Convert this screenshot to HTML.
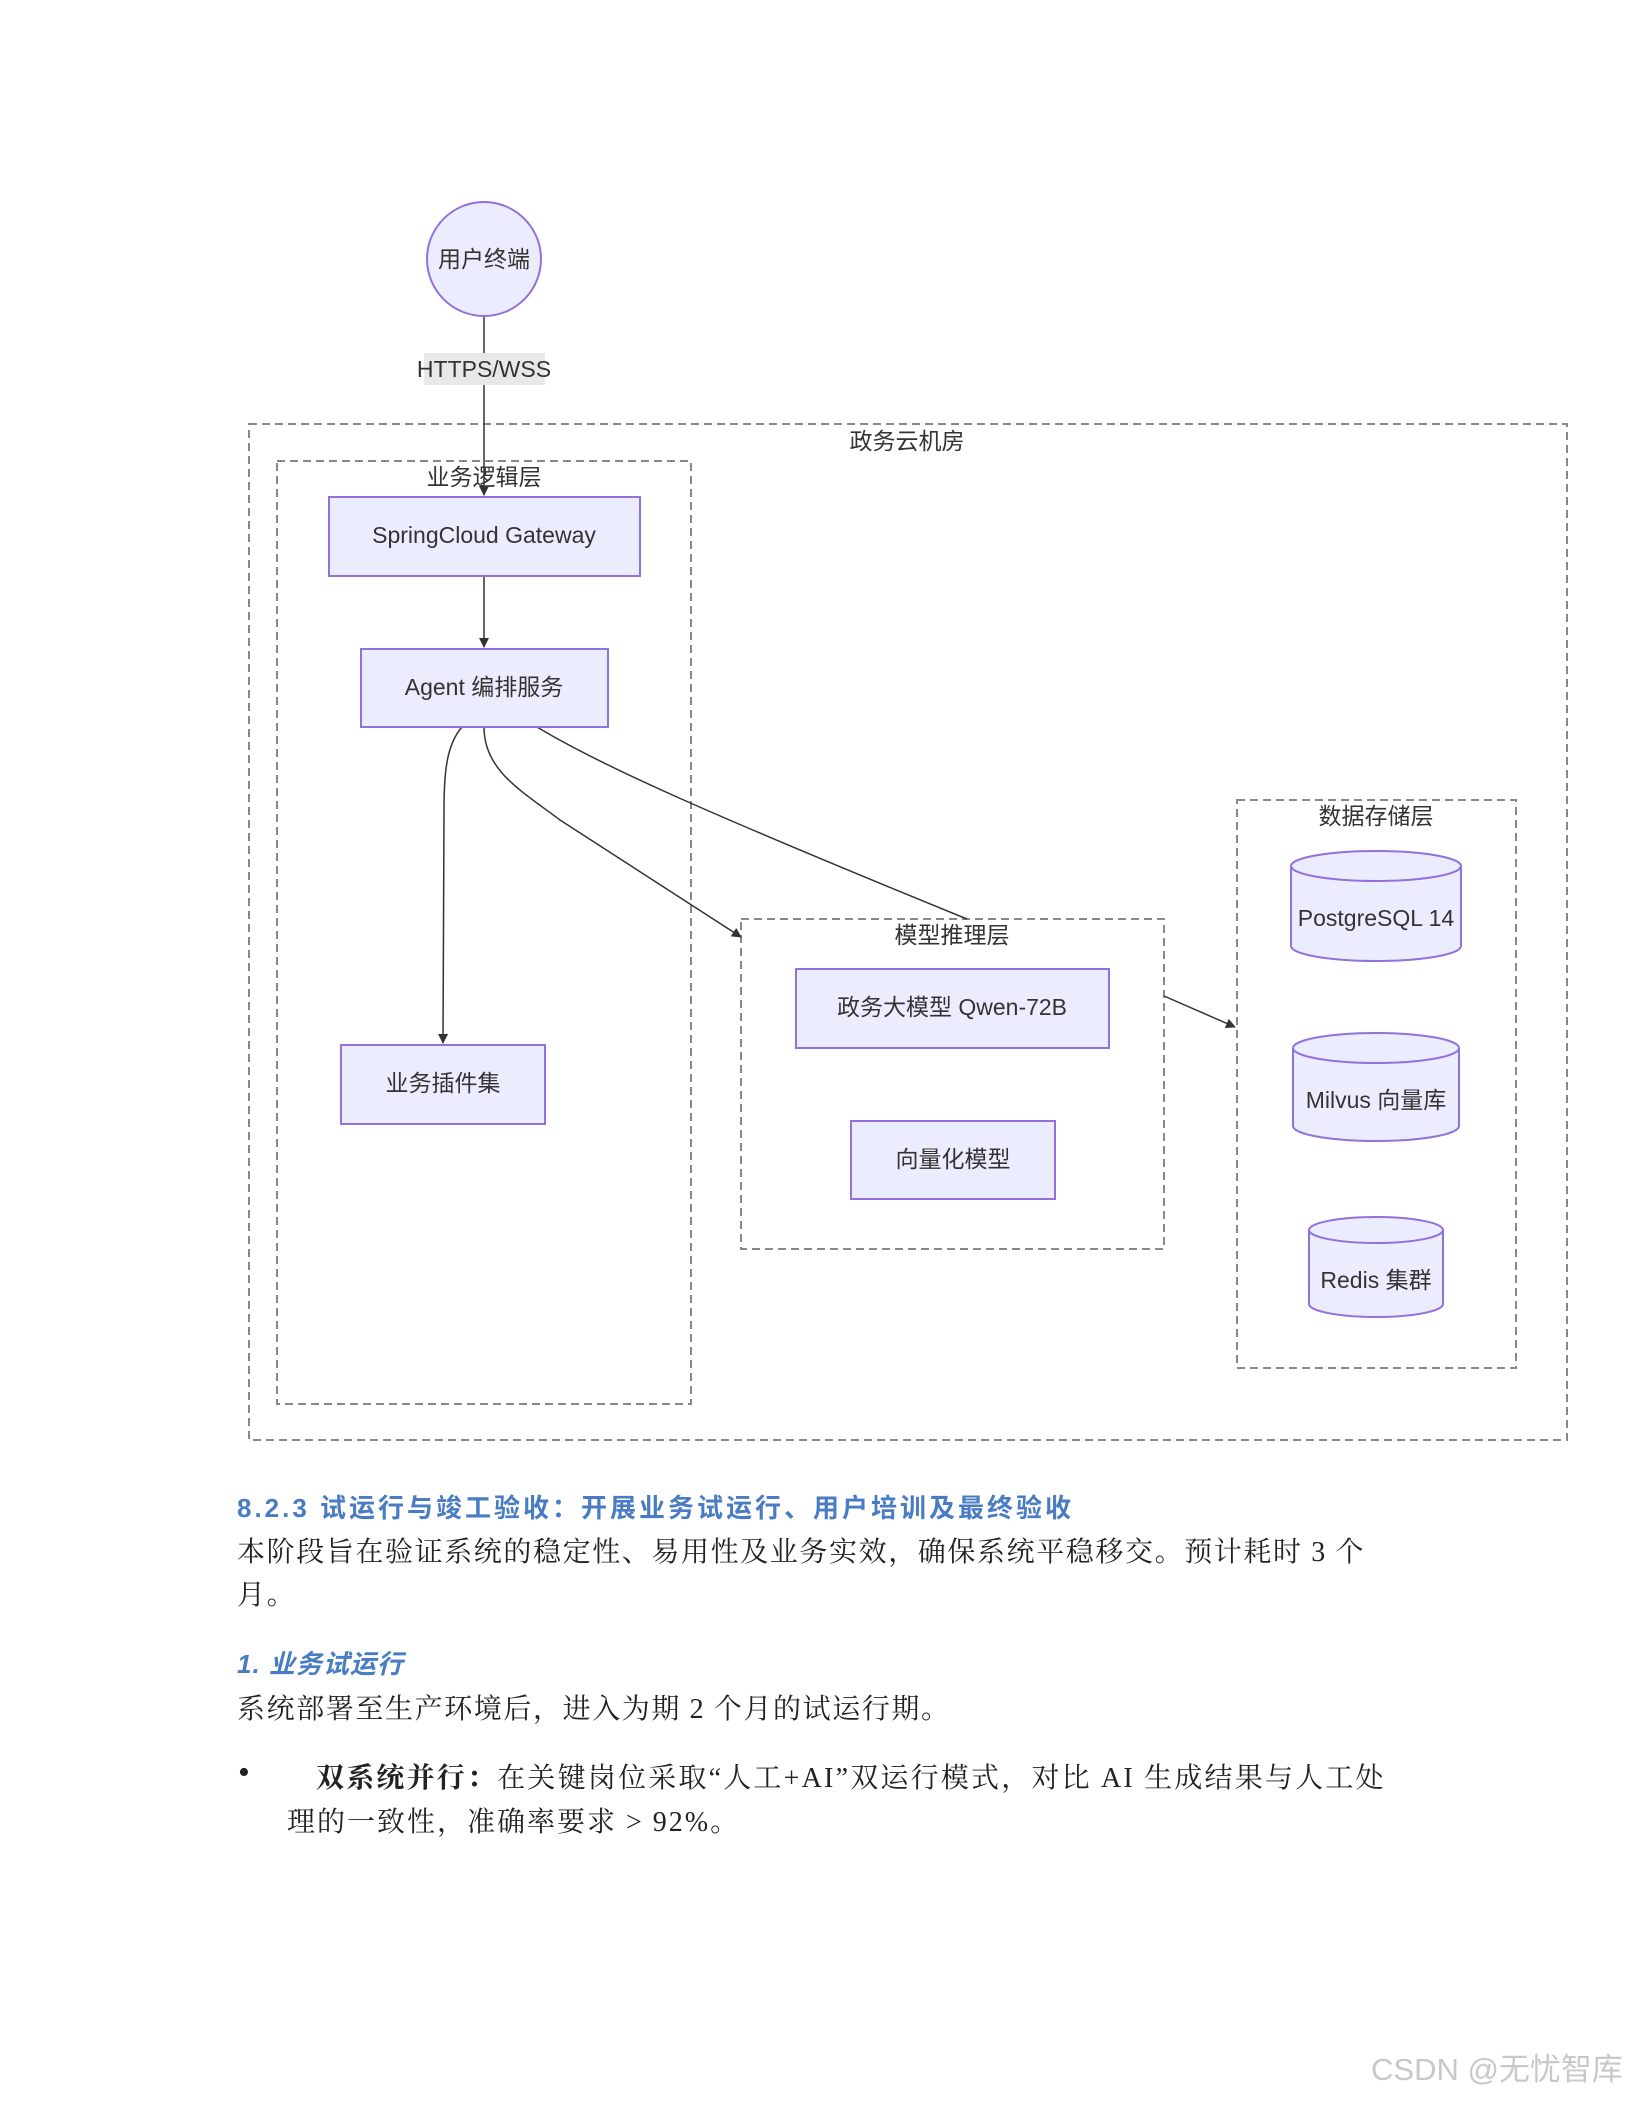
<!DOCTYPE html>
<html><head><meta charset="utf-8"><style>
html,body{margin:0;padding:0;background:#fff;}
body{width:1632px;height:2112px;position:relative;overflow:hidden;font-family:"Liberation Serif","Noto Serif CJK SC",serif;}
.t{position:absolute;white-space:nowrap;font-size:28px;color:#222;letter-spacing:1.6px;}
.h{color:#4a7cc4;font-family:"Liberation Sans","Noto Sans CJK SC",sans-serif;font-size:26px;letter-spacing:3px;}
</style></head><body>
<svg width="1632" height="2112" style="position:absolute;left:0;top:0" font-family="Liberation Sans, Noto Sans CJK SC, sans-serif">
<defs><marker id="a" markerWidth="10" markerHeight="10" refX="9" refY="5" orient="auto" markerUnits="userSpaceOnUse"><path d="M0,0 L10,5 L0,10 z" fill="#333"/></marker></defs>
<g fill="none" stroke="#888" stroke-width="2" stroke-dasharray="8,5">
<rect x="249" y="424" width="1318" height="1016"/>
<rect x="277" y="461" width="414" height="943"/>
<rect x="741" y="919" width="423" height="330"/>
<rect x="1237" y="800" width="279" height="568"/>
</g>
<g font-size="23" fill="#333" text-anchor="middle">
<text x="907" y="449">政务云机房</text>
<text x="484" y="485">业务逻辑层</text>
<text x="952" y="943">模型推理层</text>
<text x="1376" y="824">数据存储层</text>
</g>
<g fill="none" stroke="#333" stroke-width="1.5">
<line x1="484" y1="316" x2="484" y2="495" marker-end="url(#a)"/>
<line x1="484" y1="576" x2="484" y2="647" marker-end="url(#a)"/>
<path d="M462,727 C446,745 444,775 444,810 L443,1043" marker-end="url(#a)"/>
<path d="M484,727 C484,770 520,790 560,820 L741,937" marker-end="url(#a)"/>
<path d="M537,727 C600,765 700,810 967,919"/>
<line x1="1164" y1="996" x2="1235" y2="1027" marker-end="url(#a)"/>
</g>
<rect x="424" y="353" width="121" height="32" fill="#e8e8e8"/>
<text x="484" y="377" font-size="23" fill="#333" text-anchor="middle">HTTPS/WSS</text>
<circle cx="484" cy="259" r="57" fill="#ececff" stroke="#9370db" stroke-width="2"/>
<text x="484" y="267" font-size="23" fill="#333" text-anchor="middle">用户终端</text>
<g fill="#ececff" stroke="#9370db" stroke-width="2">
<rect x="329" y="497" width="311" height="79"/>
<rect x="361" y="649" width="247" height="78"/>
<rect x="341" y="1045" width="204" height="79"/>
<rect x="796" y="969" width="313" height="79"/>
<rect x="851" y="1121" width="204" height="78"/>
<path d="M1291,866 v80 a85,15 0 0 0 170,0 v-80"/>
<ellipse cx="1376" cy="866" rx="85" ry="15"/>
<path d="M1293,1048 v78 a83,15 0 0 0 166,0 v-78"/>
<ellipse cx="1376" cy="1048" rx="83" ry="15"/>
<path d="M1309,1230 v74 a67,13 0 0 0 134,0 v-74"/>
<ellipse cx="1376" cy="1230" rx="67" ry="13"/>
</g>
<g font-size="23" fill="#333" text-anchor="middle">
<text x="484" y="543">SpringCloud Gateway</text>
<text x="484" y="695">Agent 编排服务</text>
<text x="443" y="1091">业务插件集</text>
<text x="952" y="1015">政务大模型 Qwen-72B</text>
<text x="953" y="1167">向量化模型</text>
<text x="1376" y="926">PostgreSQL 14</text>
<text x="1376" y="1108">Milvus 向量库</text>
<text x="1376" y="1288">Redis 集群</text>
</g>
</svg>
<div class="t h" style="left:237px;top:1488px;font-weight:bold">8.2.3 试运行与竣工验收：开展业务试运行、用户培训及最终验收</div>
<div class="t" style="left:237px;top:1530px">本阶段旨在验证系统的稳定性、易用性及业务实效，确保系统平稳移交。预计耗时&nbsp;3&nbsp;个</div>
<div class="t" style="left:237px;top:1573px">月。</div>
<div class="t h" style="left:237px;top:1644px;font-style:italic;font-weight:bold;letter-spacing:1px">1. 业务试运行</div>
<div class="t" style="left:237px;top:1687px">系统部署至生产环境后，进入为期&nbsp;2&nbsp;个月的试运行期。</div>
<div class="t" style="left:238px;top:1754px;font-size:34px">•</div>
<div class="t" style="left:316px;top:1756px;letter-spacing:2.2px"><b>双系统并行：</b>在关键岗位采取“人工+AI”双运行模式，对比&nbsp;AI&nbsp;生成结果与人工处</div>
<div class="t" style="left:287px;top:1800px;letter-spacing:2px">理的一致性，准确率要求&nbsp;&gt;&nbsp;92%。</div>
<div class="t" style="left:1371px;top:2044px;font-family:'Liberation Sans','Noto Sans CJK SC',sans-serif;font-size:31px;color:#c8c8c8;letter-spacing:0">CSDN @无忧智库</div>
</body></html>
